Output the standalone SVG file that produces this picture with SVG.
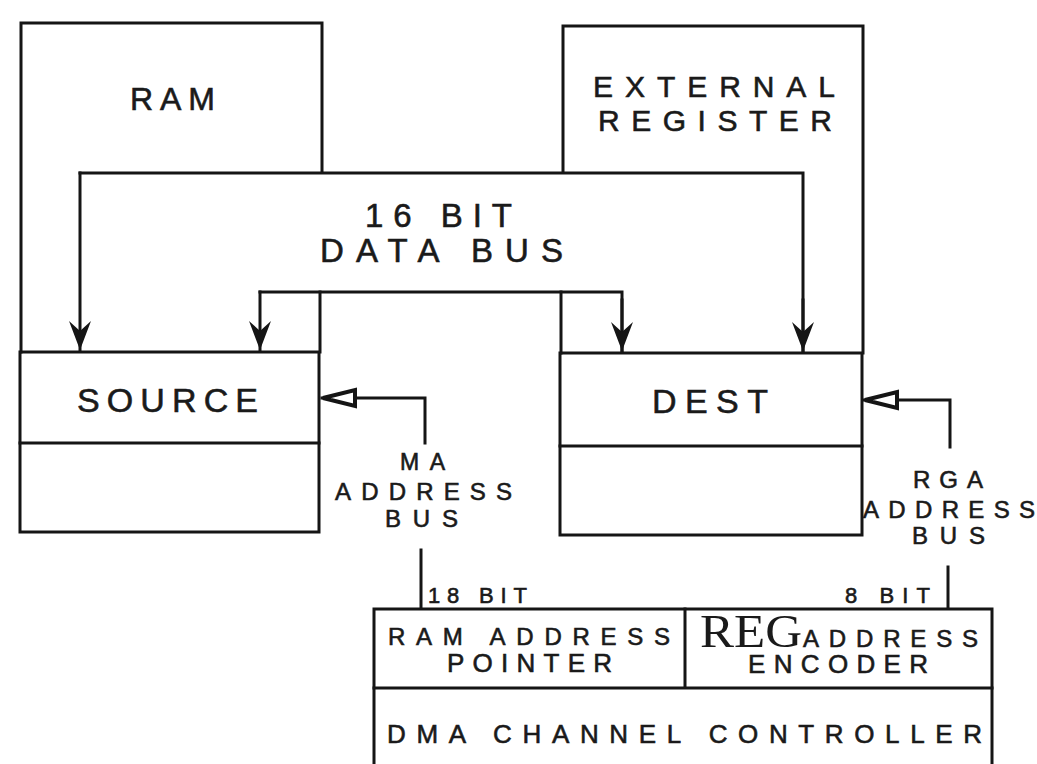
<svg xmlns="http://www.w3.org/2000/svg" width="1037" height="764" viewBox="0 0 1037 764">
<style>
.ln{fill:none;stroke:#151515;stroke-width:3;stroke-linecap:square}
.t{font-family:"Liberation Sans","DejaVu Sans",sans-serif;fill:#1a1a1a;stroke:#1a1a1a;stroke-width:0.6}
.s{font-family:"Liberation Serif","DejaVu Serif",serif;fill:#1a1a1a}
</style>
<defs>
<marker id="dn" viewBox="-32 -13 34 26" refX="0" refY="0" markerWidth="34" markerHeight="26" markerUnits="userSpaceOnUse" orient="auto">
<path d="M0,0 L-29,-11 L-19,0 L-29,11 Z" fill="#151515"/>
</marker>
<marker id="lt" viewBox="-38 -12 40 24" refX="0" refY="0" markerWidth="40" markerHeight="24" markerUnits="userSpaceOnUse" orient="auto">
<path d="M-1,0 L-33,-8 L-33,8 Z" fill="#fff" stroke="#151515" stroke-width="4" stroke-linejoin="miter"/>
</marker>
</defs>
<rect width="1037" height="764" fill="#fff"/>
<g id="ram">
<path class="ln" d="M322,172 V23 H21 V352"/>
<path class="ln" d="M320,292 V352"/>
<text class="t" x="130" y="110" font-size="32" textLength="85" lengthAdjust="spacing">RAM</text>
</g>
<g id="external-register">
<path class="ln" d="M563,172 V26 H863 V353"/>
<path class="ln" d="M561,292 V353"/>
<text class="t" x="593" y="97" font-size="30" textLength="242" lengthAdjust="spacing">EXTERNAL</text>
<text class="t" x="598" y="131" font-size="30" textLength="234" lengthAdjust="spacing">REGISTER</text>
</g>
<g id="source">
<rect class="ln" x="20" y="352" width="299" height="180"/>
<path class="ln" d="M20,443 H319"/>
<text class="t" x="77" y="412" font-size="34" textLength="181" lengthAdjust="spacing">SOURCE</text>
</g>
<g id="dest">
<rect class="ln" x="560" y="353" width="302" height="182"/>
<path class="ln" d="M560,446 H862"/>
<text class="t" x="652" y="413" font-size="34" textLength="116" lengthAdjust="spacing">DEST</text>
</g>
<g id="dma-controller">
<rect class="ln" x="374" y="609" width="618" height="170"/>
<path class="ln" d="M374,688 H992 M685,609 V688"/>
<text class="t" x="388" y="645" font-size="24" textLength="282" lengthAdjust="spacing">RAM ADDRESS</text>
<text class="t" x="447" y="672" font-size="26" textLength="165" lengthAdjust="spacing">POINTER</text>
<text class="s" x="700" y="647" font-size="46" textLength="102" lengthAdjust="spacingAndGlyphs">REG</text>
<text class="t" x="803" y="647" font-size="24" textLength="175" lengthAdjust="spacing">ADDRESS</text>
<text class="t" x="748" y="673" font-size="26" textLength="180" lengthAdjust="spacing">ENCODER</text>
<text class="t" x="387" y="743" font-size="26" textLength="595" lengthAdjust="spacing">DMA CHANNEL CONTROLLER</text>
</g>
<g id="connectors">
<path class="ln" d="M803,351 V173 H80"/>
<path class="ln" d="M80,173 V350" marker-end="url(#dn)"/>
<path class="ln" d="M803,300 V351" marker-end="url(#dn)"/>
<path class="ln" d="M622,351 V292 H260"/>
<path class="ln" d="M260,292 V350" marker-end="url(#dn)"/>
<path class="ln" d="M622,300 V351" marker-end="url(#dn)"/>
<path class="ln" d="M425,443 V398 H322" marker-end="url(#lt)"/>
<path class="ln" d="M950,447 V400 H864" marker-end="url(#lt)"/>
<path class="ln" d="M421,550 V608"/>
<path class="ln" d="M948,567 V608"/>
<text class="t" x="365" y="227" font-size="33" textLength="147" lengthAdjust="spacing">16 BIT</text>
<text class="t" x="320" y="262" font-size="33" textLength="243" lengthAdjust="spacing">DATA BUS</text>
<text class="t" x="400" y="470" font-size="23" textLength="45" lengthAdjust="spacing">MA</text>
<text class="t" x="335" y="500" font-size="24" textLength="177" lengthAdjust="spacing">ADDRESS</text>
<text class="t" x="385" y="527" font-size="24" textLength="73" lengthAdjust="spacing">BUS</text>
<text class="t" x="913" y="488" font-size="24" textLength="70" lengthAdjust="spacing">RGA</text>
<text class="t" x="863" y="518" font-size="24" textLength="172" lengthAdjust="spacing">ADDRESS</text>
<text class="t" x="912" y="544" font-size="24" textLength="73" lengthAdjust="spacing">BUS</text>
<text class="t" x="428" y="603" font-size="22" textLength="99" lengthAdjust="spacing">18 BIT</text>
<text class="t" x="845" y="603" font-size="22" textLength="85" lengthAdjust="spacing">8 BIT</text>
</g>
</svg>
